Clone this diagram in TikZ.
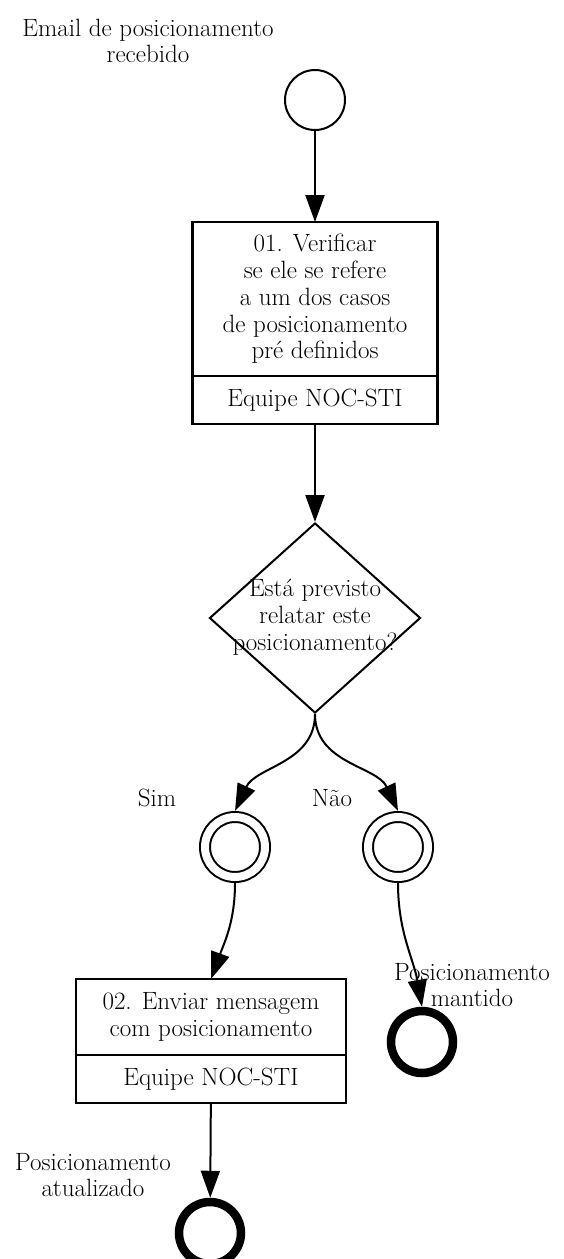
\documentclass[tikz,border=0pt]{standalone}
\usetikzlibrary{positioning}
\usetikzlibrary{shapes.geometric}
\usetikzlibrary{arrows.meta}

\begin{document}
\begin{tikzpicture}[x=1pt,y=-1pt,
  every node/.style={font=\fontsize{25}{26.75}\selectfont, align=center},
  flow/.style={line width=2pt, -{Triangle[length=27pt,width=19pt]}},
  taskbox/.style={draw, line width=2.5pt, minimum width=245pt, inner sep=0pt, outer sep=0pt},
  startev/.style={draw, circle, line width=2pt, minimum size=60pt, inner sep=0pt},
  midev/.style={draw, circle, line width=2pt, double, double distance=8pt, minimum size=60pt, inner sep=0pt, outer sep=6pt},
  endev/.style={draw, circle, line width=8.5pt, minimum size=62pt, inner sep=0pt, outer sep=4.25pt},
  gate/.style={draw, diamond, line width=2pt, minimum width=211pt, minimum height=190pt, inner sep=0pt},
  evlabel/.style={inner sep=0pt}]
  \useasboundingbox (0,0) rectangle (563,1259);

  % Start event
  \node[startev] (start) at (315,100) {};
  \node[evlabel] (startlbl) at (148,41) {Email de posicionamento\\recebido};

  % Task 01
  \node[taskbox, minimum height=154pt] (task1) at (315,299)
    {01. Verificar\\se ele se refere\\a um dos casos\\de posicionamento\\pré definidos};
  \node[taskbox, minimum height=48pt, below=0pt of task1] (team1) {Equipe NOC-STI};

  % Gateway
  \node[gate] (gate) at (315,618)
    {\makebox[0pt]{\begin{tabular}{@{}c@{}}Está previsto\\relatar este\\posicionamento?\end{tabular}}};

  % Intermediate events
  \node[midev] (sim) at (235,847) {};
  \node[midev] (nao) at (398,847) {};
  \node[evlabel] (simlbl) at (157,798) {Sim};
  \node[evlabel] (naolbl) at (332,798) {Não};

  % Task 02
  \node[taskbox, minimum width=270pt, minimum height=76pt] (task2) at (211,1017)
    {02. Enviar mensagem\\com posicionamento};
  \node[taskbox, minimum width=270pt, minimum height=48pt, below=0pt of task2] (team2) {Equipe NOC-STI};

  % End events
  \node[endev] (endA) at (422,1042) {};
  \node[evlabel] (endAlbl) at (472,985) {Posicionamento\\mantido};
  \node[endev] (endB) at (210,1233) {};
  \node[evlabel] (endBlbl) at (93,1175) {Posicionamento\\atualizado};

  % Flows
  \draw[flow] (start) -- (task1);
  \draw[flow] (team1) -- (gate);
  \draw[flow] (gate.south) to[out=-90,in=65] (sim.north);
  \draw[flow] (gate.south) to[out=-90,in=115] (nao.north);
  \draw[flow] (sim.south) to[out=-90,in=70] (task2.north);
  \draw[flow] (nao.south) to[out=-90,in=100] (endA.north);
  \draw[flow] (team2) -- (endB);
\end{tikzpicture}
\end{document}
